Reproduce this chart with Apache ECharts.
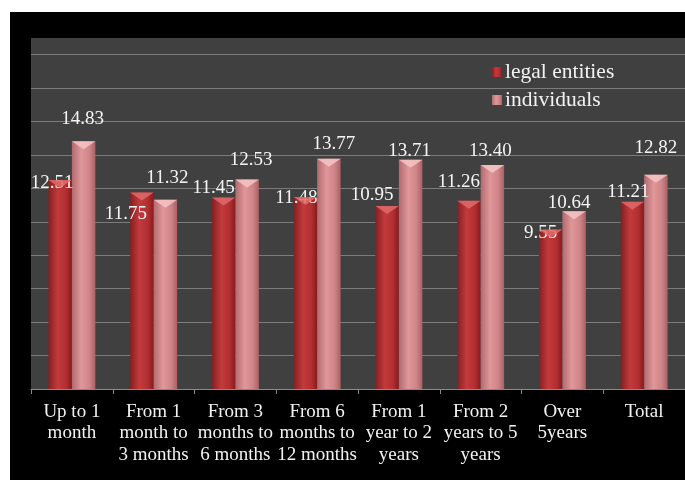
<!DOCTYPE html>
<html>
<head>
<meta charset="utf-8">
<script src="https://cdn.jsdelivr.net/npm/echarts@6/dist/echarts.min.js"></script>
<style>
html,body{margin:0;padding:0;background:#fff;width:685px;height:480px;overflow:hidden;}
#c{position:absolute;left:10px;top:12px;width:675px;height:468px;}
</style>
</head>
<body>
<div id="c"></div>
<script>
var categories = ["Up to 1\nmonth","From 1\nmonth to\n3 months","From 3\nmonths to\n6 months","From 6\nmonths to\n12 months","From 1\nyear to 2\nyears","From 2\nyears to 5\nyears","Over\n5years","Total"];
var legalEntities = [12.51, 11.75, 11.45, 11.48, 10.95, 11.26, 9.55, 11.21];
var individuals = [14.83, 11.32, 12.53, 13.77, 13.71, 13.40, 10.64, 12.82];

// label nudges (styling only), relative to bar top centre
var legalNudge = [[-8,3],[-16,21],[-10,-10],[-9,1],[-15,-11],[-10,-19],[-10,4],[-4,-10]];
var indivNudge = [[-1,-22],[2,-22],[4,-20],[5,-15],[-1,-9],[-2,-14],[-5,-8],[0,-27]];

var FONT = "'Liberation Serif','Times New Roman',serif";
var BW = 23.5;

function grad(stops){
  return new echarts.graphic.LinearGradient(0,0,1,0, stops.map(function(s){return {offset:s[0],color:s[1]};}));
}
var redGrad = grad([[0,'#861e20'],[0.4,'#c23a3c'],[0.75,'#b22f31'],[1,'#841c1e']]);
var pinkGrad = grad([[0,'#b06a6d'],[0.4,'#e0979a'],[0.75,'#cf8487'],[1,'#a66265']]);

function withLabels(vals, nudges){
  return vals.map(function(v,i){
    return {value:v, label:{offset:nudges[i]}};
  });
}

var chart = echarts.init(document.getElementById('c'));
chart.setOption({
  backgroundColor:'#000',
  animation:false,
  grid:{left:21, right:-5, top:26, bottom:91, show:true, backgroundColor:'#404040', borderWidth:0},
  legend:{
    orient:'vertical', left:477, top:44, itemGap:6, itemWidth:10, itemHeight:10,
    icon:'rect', data:['legal entities','individuals'],
    textStyle:{color:'#f2f2f2', fontFamily:FONT, fontSize:21.5, padding:[0,0,0,-2]}
  },
  xAxis:{
    type:'category', data:categories,
    axisLine:{lineStyle:{color:'#8a8a8a', width:1}},
    axisTick:{show:true, length:5, lineStyle:{color:'#8a8a8a'}},
    axisLabel:{interval:0, color:'#f2f2f2', fontFamily:FONT, fontSize:19, lineHeight:21.5, margin:12}
  },
  yAxis:{
    type:'value', min:0, max:21, interval:2,
    axisLine:{show:false}, axisTick:{show:false}, axisLabel:{show:false},
    splitLine:{show:true, showMaxLine:false, lineStyle:{color:'#7c7c7c', width:1}}
  },
  series:[
    {name:'legal entities', type:'bar', data:withLabels(legalEntities, legalNudge), barWidth:BW, barGap:'0%',
     itemStyle:{color:redGrad},
     label:{show:true, position:['50%',0], align:'center', verticalAlign:'middle', color:'#f4f4f4', fontFamily:FONT, fontSize:19, formatter:function(p){return p.value.toFixed(2);}}},
    {name:'individuals', type:'bar', data:withLabels(individuals, indivNudge), barWidth:BW, barGap:'0%',
     itemStyle:{color:pinkGrad},
     label:{show:true, position:['50%',0], align:'center', verticalAlign:'middle', color:'#f4f4f4', fontFamily:FONT, fontSize:19, formatter:function(p){return p.value.toFixed(2);}}},
    {name:'capA', type:'pictorialBar', data:legalEntities, barWidth:BW, barGap:'0%',
     symbol:'path://M0,0 L10,0 L5,4 Z', symbolSize:[BW,8], symbolPosition:'end', symbolOffset:[0,0],
     itemStyle:{color:'#e06a6a', opacity:0.85}, z:3, silent:true},
    {name:'capB', type:'pictorialBar', data:individuals, barWidth:BW, barGap:'0%',
     symbol:'path://M0,0 L10,0 L5,4 Z', symbolSize:[BW,8], symbolPosition:'end', symbolOffset:[0,0],
     itemStyle:{color:'#f6c4c6', opacity:0.85}, z:3, silent:true}
  ]
});
</script>
</body>
</html>
